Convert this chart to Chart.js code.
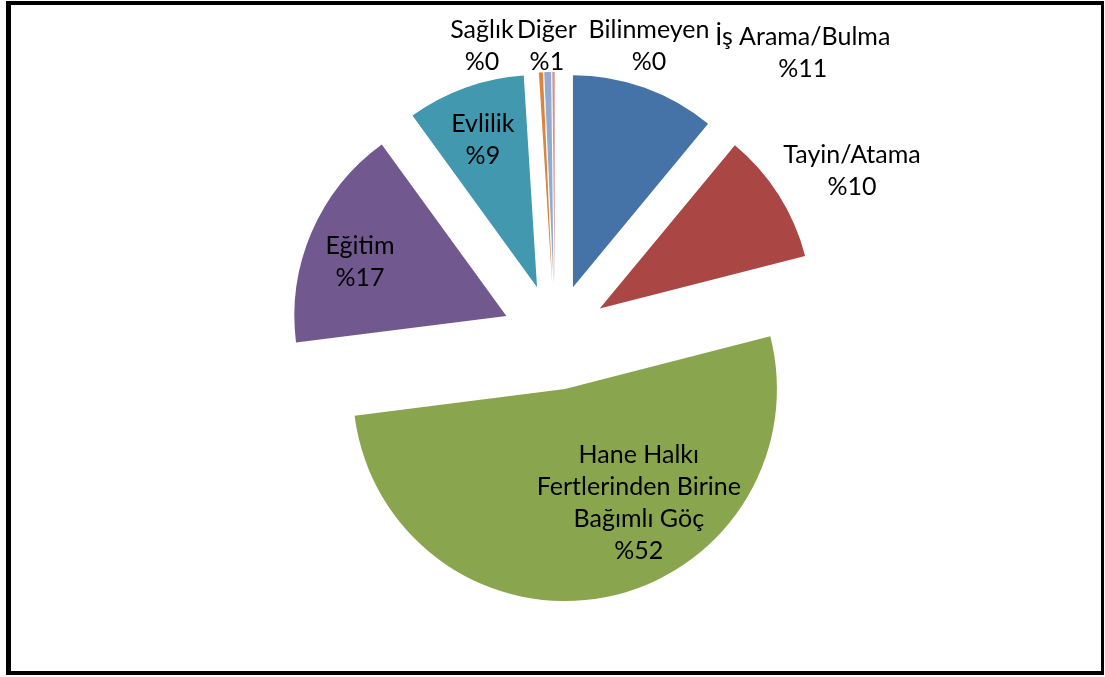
<!DOCTYPE html>
<html lang="tr">
<head>
<meta charset="utf-8">
<title>Göç Nedenleri</title>
<script src="https://cdn.jsdelivr.net/npm/chart.js@4.4.1/dist/chart.umd.min.js"></script>
<style>
  html, body { margin: 0; padding: 0; background: #fff; }
  #kutu { position: relative; width: 1105px; height: 677px; overflow: hidden; }
  #grafik { position: absolute; left: 0; top: 0; }
  #cerceve {
    position: absolute; left: 6px; top: 1px;
    width: 1090px; height: 666px;
    border: 4px solid #000; border-left-width: 5px; border-right-width: 3px;
    pointer-events: none;
  }
</style>
</head>
<body>
<div id="kutu">
  <canvas id="grafik" width="1105" height="677"></canvas>
  <div id="cerceve"></div>
</div>
<script>
// göç nedenleri ve yüzde payları
const nedenler = ['İş Arama/Bulma', 'Tayin/Atama', 'Hane Halkı Fertlerinden Birine Bağımlı Göç', 'Eğitim', 'Evlilik', 'Sağlık', 'Diğer', 'Bilinmeyen'];
const oranlar = [11, 10, 52, 17, 9, 0.3, 0.52, 0.18];
const renkler = ['#4572A7', '#AA4643', '#89A54E', '#71588F', '#4198AF', '#DB843D', '#93A9CF', '#D19392'];

// etiket yeri: tepeden saat yönünde açı (derece) ve yarıçapa oranla uzaklık
const etiketAci = [41.1, 60.8, 153.2, 291.0, 339.9, 345.9, 358.4, 17.9];
const etiketUzaklik = [1.778, 1.605, 0.877, 0.985, 0.99, 1.415, 1.373, 1.443];

const ayrik = 53;        // dilimlerin merkezden ayrılma mesafesi
const satirAraligi = 32;
const yazi = '25px Lato';

// kelimeleri verilen genişliğe göre satırlara böl
function sar(ctx, metin, genislik) {
    let satirlar = [];
    let satir = '';
    metin.split(' ').forEach(function (k) {
        let dene = satir ? satir + ' ' + k : k;
        if (satir && ctx.measureText(dene).width > genislik) {
            satirlar.push(satir);
            satir = k;
        } else {
            satir = dene;
        }
    });
    satirlar.push(satir);
    return satirlar;
}

// her dilimi kendi orta açısı boyunca dışarı kaydırarak çiz
const patlat = {
    id: 'patlat',
    beforeDatasetDraw(chart, args) {
        const ctx = chart.ctx;
        args.meta.data.forEach(function (arc) {
            const orta = (arc.startAngle + arc.endAngle) / 2;
            ctx.save();
            ctx.translate(Math.cos(orta) * ayrik, Math.sin(orta) * ayrik);
            arc.draw(ctx);
            ctx.restore();
        });
        return false;
    }
};

// kategori adı + yüzde etiketleri
const etiketler = {
    id: 'etiketler',
    afterDatasetsDraw(chart) {
        const ctx = chart.ctx;
        const meta = chart.getDatasetMeta(0);
        const toplam = oranlar.reduce((a, b) => a + b, 0);
        ctx.save();
        ctx.font = yazi;
        ctx.fillStyle = '#000';
        ctx.textAlign = 'center';
        ctx.textBaseline = 'middle';
        meta.data.forEach(function (arc, i) {
            const aci = (etiketAci[i] - 90) * Math.PI / 180;
            const r = arc.outerRadius * etiketUzaklik[i];
            const x = arc.x + Math.cos(aci) * r;
            const y = arc.y + Math.sin(aci) * r;
            let satirlar = sar(ctx, nedenler[i], 210);
            satirlar.push('%' + Math.round(oranlar[i] / toplam * 100));
            const y0 = y - (satirlar.length - 1) * satirAraligi / 2;
            satirlar.forEach(function (s, k) {
                ctx.fillText(s, x, y0 + k * satirAraligi);
            });
        });
        ctx.restore();
    }
};

new Chart(document.getElementById('grafik'), {
    type: 'pie',
    data: {
        labels: nedenler,
        datasets: [{
            data: oranlar,
            backgroundColor: renkler,
            borderWidth: 0,
            radius: 212
        }]
    },
    options: {
        responsive: false,
        animation: false,
        layout: {padding: {left: 5, right: 0, top: 0, bottom: 3}},
        plugins: {
            legend: {display: false},
            tooltip: {enabled: false}
        }
    },
    plugins: [patlat, etiketler]
});
</script>
</body>
</html>
